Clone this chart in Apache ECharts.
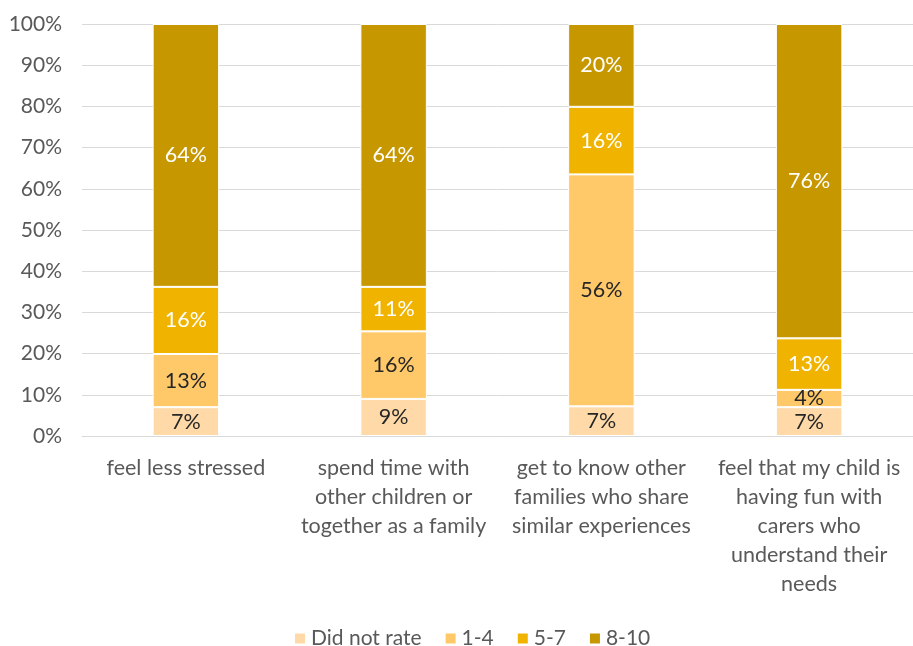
<!DOCTYPE html>
<html>
<head>
<meta charset="utf-8">
<script src="https://cdn.jsdelivr.net/npm/echarts@6/dist/echarts.min.js"></script>
<style>
  html, body { margin: 0; padding: 0; background: #ffffff; }
  #chart { width: 913px; height: 646px; }
</style>
</head>
<body>
<div id="chart"></div>
<script>
// Survey outcomes, share of respondents by rating band (percent)
const categories = [
  'feel less stressed',
  'spend time with\nother children or\ntogether as a family',
  'get to know other\nfamilies who share\nsimilar experiences',
  'feel that my child is\nhaving fun with\ncarers who\nunderstand their\nneeds'
];
const seriesNames = ['Did not rate', '1-4', '5-7', '8-10'];
const didNotRate = [7.0, 9.0, 7.2, 7.0];
const rating1to4 = [12.9, 16.4, 56.3, 4.2];
const rating5to7 = [16.3, 10.8, 16.4, 12.5];
const rating8to10 = [63.8, 63.8, 20.1, 76.3];
const yTicks = [0, 10, 20, 30, 40, 50, 60, 70, 80, 90, 100];

const colors = ['#FFDAA8', '#FFC869', '#F0B400', '#C79700'];
const labelColors = ['#262626', '#262626', '#FFFFFF', '#FFFFFF'];
const values = [didNotRate, rating1to4, rating5to7, rating8to10];
const FONT = 'Lato, "Open Sans", sans-serif';

const chart = echarts.init(document.getElementById('chart'), null, { renderer: 'canvas' });

chart.setOption({
  animation: false,
  color: colors,
  textStyle: { fontFamily: FONT },
  grid: { left: 82, right: 0, top: 24, bottom: 210, containLabel: false },
  legend: {
    data: seriesNames,
    top: 623,
    left: 288,
    itemWidth: 12,
    itemHeight: 12,
    itemGap: 22,
    icon: 'rect',
    textStyle: { fontFamily: FONT, fontSize: 21, color: '#595959' }
  },
  xAxis: {
    type: 'category',
    data: categories,
    axisLine: { show: true, lineStyle: { color: '#D9D9D9', width: 1 } },
    axisTick: { show: false },
    axisLabel: {
      interval: 0,
      margin: 18,
      fontFamily: FONT,
      fontSize: 21.5,
      lineHeight: 29,
      color: '#595959',
      align: 'center'
    }
  },
  yAxis: {
    type: 'value',
    min: yTicks[0],
    max: yTicks[yTicks.length - 1],
    interval: 10,
    axisLine: { show: false },
    axisTick: { show: false },
    splitLine: { lineStyle: { color: '#D9D9D9', width: 1 } },
    axisLabel: {
      margin: 20,
      fontFamily: FONT,
      fontSize: 21,
      color: '#595959',
      formatter: v => v + '%'
    }
  },
  series: seriesNames.map((name, i) => ({
    name: name,
    type: 'bar',
    stack: 'total',
    barWidth: '32%',
    data: values[i],
    itemStyle: { color: colors[i], borderColor: '#FFFFFF', borderWidth: 1 },
    label: {
      show: true,
      position: 'inside',
      fontFamily: FONT,
      fontSize: 21.5,
      color: labelColors[i],
      formatter: p => Math.round(p.value) + '%'
    },
    emphasis: { disabled: true }
  }))
});
</script>
</body>
</html>
